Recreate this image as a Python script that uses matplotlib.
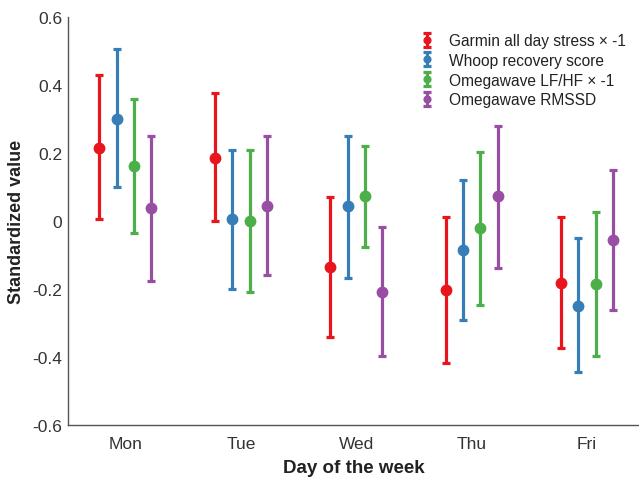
import matplotlib
matplotlib.use("Agg")
import matplotlib.pyplot as plt
from matplotlib.container import ErrorbarContainer
from matplotlib.legend_handler import HandlerErrorbar
import numpy as np

plt.rcParams['font.family'] = ['Liberation Sans', 'DejaVu Sans']
plt.rcParams['axes.unicode_minus'] = False

days = ['Mon', 'Tue', 'Wed', 'Thu', 'Fri']
labels = ['Garmin all day stress \u00d7 -1', 'Whoop recovery score',
          'Omegawave LF/HF \u00d7 -1', 'Omegawave RMSSD']
colors = ['#e8161c', '#377eb8', '#4daf4a', '#984ea3']

# means and CI bounds
garmin_mean = [0.215, 0.185, -0.135, -0.203, -0.182]
garmin_low = [0.005, 0.0, -0.34, -0.418, -0.373]
garmin_high = [0.43, 0.377, 0.07, 0.012, 0.012]

whoop_mean = [0.30, 0.005, 0.043, -0.085, -0.25]
whoop_low = [0.10, -0.20, -0.168, -0.292, -0.445]
whoop_high = [0.505, 0.21, 0.25, 0.12, -0.05]

lfhf_mean = [0.163, 0.0, 0.073, -0.02, -0.185]
lfhf_low = [-0.035, -0.208, -0.077, -0.248, -0.396]
lfhf_high = [0.36, 0.21, 0.22, 0.203, 0.027]

rmssd_mean = [0.038, 0.045, -0.208, 0.073, -0.055]
rmssd_low = [-0.175, -0.158, -0.396, -0.137, -0.262]
rmssd_high = [0.25, 0.25, -0.018, 0.28, 0.15]

series = [
    (garmin_mean, garmin_low, garmin_high),
    (whoop_mean, whoop_low, whoop_high),
    (lfhf_mean, lfhf_low, lfhf_high),
    (rmssd_mean, rmssd_low, rmssd_high),
]
offsets = [-0.225, -0.075, 0.075, 0.225]

fig = plt.figure(figsize=(6.39, 4.81), dpi=100)
ax = fig.add_axes([0.106, 0.1143, 0.894, 0.8483])

x = np.arange(1, len(days) + 1)
for (m, lo, hi), off, col, lab in zip(series, offsets, colors, labels):
    m = np.array(m)
    yerr = [m - np.array(lo), np.array(hi) - m]
    ax.errorbar(x + off, m, yerr=yerr, fmt='o', color=col, ecolor=col,
                elinewidth=2.3, capsize=3, capthick=2.3, markersize=7.5,
                label=lab)

ax.set_xlim(0.5, 5.45)
ax.set_ylim(-0.6, 0.6)
ax.set_xticks(x)
ax.set_xticklabels(days)
yt = [-0.6, -0.4, -0.2, 0, 0.2, 0.4, 0.6]
ax.set_yticks(yt)
ax.set_yticklabels(['-0.6', '-0.4', '-0.2', '0', '0.2', '0.4', '0.6'])
ax.tick_params(axis='y', length=0, labelsize=12.5, colors='#333333', pad=4)
ax.tick_params(axis='x', length=0, labelsize=12.5, colors='#333333', pad=8)

for s in ['top', 'right']:
    ax.spines[s].set_visible(False)
for s in ['left', 'bottom']:
    ax.spines[s].set_color('#555555')
    ax.spines[s].set_linewidth(1.0)

ax.set_xlabel('Day of the week', fontsize=13.5, fontweight='bold', color='#222222', labelpad=6)
ax.set_ylabel('Standardized value', fontsize=13, fontweight='bold', color='#222222', labelpad=5)

leg = fig.legend(loc='upper left', bbox_to_anchor=(0.637, 0.958), frameon=False,
                 fontsize=11.2, handlelength=0.8, handletextpad=1.0,
                 labelspacing=0.3, borderpad=0.4, markerscale=0.65,
                 handler_map={ErrorbarContainer: HandlerErrorbar(yerr_size=0.45)})
for t in leg.get_texts():
    t.set_color('#222222')

fig.savefig('out.png', dpi=100)
